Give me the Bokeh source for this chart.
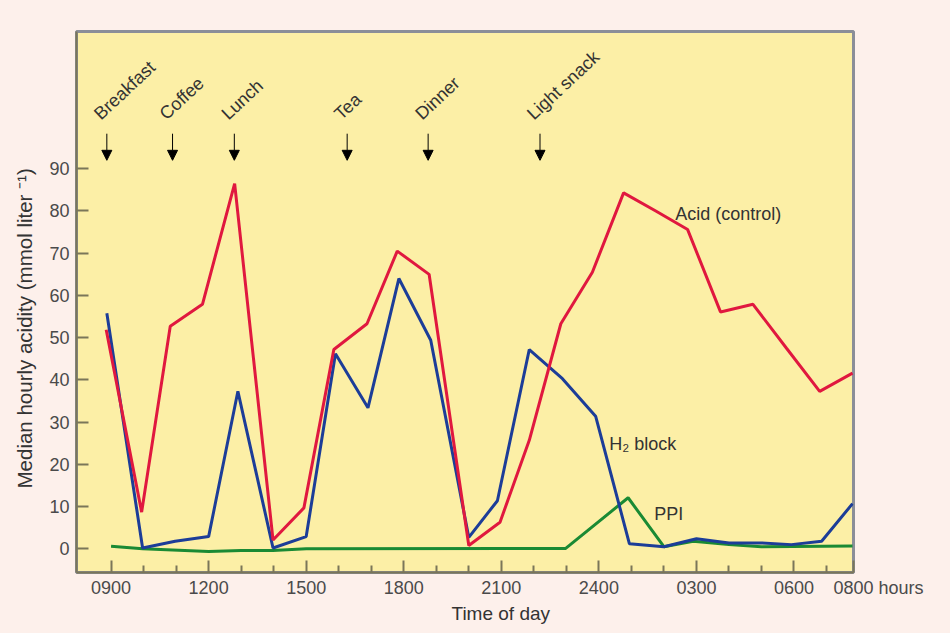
from bokeh.plotting import figure
from bokeh.models import Range1d, FixedTicker, Label, Arrow, NormalHead, ColumnDataSource, Title
from bokeh.core.properties import value
from bokeh.embed import file_html
from bokeh.resources import INLINE
import math

# ---- data (hours after 0900) ----
acid_x = [-0.15, 0.94, 1.82, 2.81, 3.80, 4.98, 5.93, 6.85, 7.87, 8.80, 9.78, 11.00,
          11.96, 12.86, 13.83, 14.80, 15.76, 16.75, 17.73, 18.74, 19.74, 20.77, 21.79, 22.80]
acid_y = [51.9, 8.7, 52.7, 57.9, 86.5, 2.1, 9.7, 47.2, 53.3, 70.5, 65.0, 0.8,
          6.3, 25.7, 53.3, 65.5, 84.3, 80.0, 75.6, 56.1, 57.9, 47.5, 37.3, 41.6]

h2_x = [-0.13, 0.97, 1.97, 3.00, 3.90, 4.98, 6.00, 6.90, 7.90, 8.85, 9.83, 11.00,
        11.88, 12.86, 13.88, 14.90, 15.94, 17.00, 18.00, 19.00, 20.00, 20.92, 21.85, 22.80]
h2_y = [55.8, 0.2, 1.8, 2.9, 37.3, 0.2, 2.9, 46.2, 33.4, 64.0, 49.4, 2.7,
        11.4, 47.2, 40.3, 31.4, 1.2, 0.5, 2.4, 1.4, 1.4, 1.0, 1.8, 10.7]

ppi_x = [0.00, 0.97, 3.00, 4.00, 4.98, 6.00, 13.98, 15.90, 17.00, 17.90, 19.00, 20.00, 22.80]
ppi_y = [0.6, 0.0, -0.6, -0.4, -0.4, 0.0, 0.1, 12.1, 0.5, 1.8, 1.0, 0.5, 0.7]

meal_names = ["Breakfast", "Coffee", "Lunch", "Tea", "Dinner", "Light snack"]
meal_times = [-0.13, 1.89, 3.79, 7.26, 9.75, 13.19]

x_ticks = [0, 3, 6, 9, 12, 15, 18, 21, 22.83]
x_tick_labels = ["0900", "1200", "1500", "1800", "2100", "2400", "0300", "0600",
                 "\u00a0" * 10 + "0800 hours"]
x_minor = [1, 2, 4, 5, 7, 8, 10, 11, 13, 14, 16, 17, 19, 20, 22]
y_ticks = [0, 10, 20, 30, 40, 50, 60, 70, 80, 90]

FONT = "Liberation Sans"
RED = "#e0183f"
BLUE = "#1c3d98"
GREEN = "#1a8a34"
PAGE_BG = "#fdf0eb"

p = figure(width=950, height=633, output_backend="svg", toolbar_location=None,
           x_range=Range1d(-1.063, 22.83), y_range=Range1d(-5.6, 122.5),
           min_border_left=76, min_border_right=97, min_border_top=31, min_border_bottom=61)
p.background_fill_color = "#fcefa6"
p.border_fill_color = PAGE_BG
p.outline_line_color = "#8b8e98"
p.outline_line_width = 3
p.grid.visible = False

xa = p.xaxis[0]
xa.ticker = FixedTicker(ticks=x_ticks, minor_ticks=x_minor)
xa.major_label_overrides = {t: l for t, l in zip(x_ticks, x_tick_labels)}
ya = p.yaxis[0]
ya.ticker = FixedTicker(ticks=y_ticks, minor_ticks=[])

for ax in (xa, ya):
    ax.axis_line_color = "#7a7659"
    ax.axis_line_width = 2
    ax.major_tick_line_color = "#7a7659"
    ax.minor_tick_line_color = "#7a7659"
    ax.major_tick_line_width = 2
    ax.minor_tick_line_width = 2
    ax.major_tick_out = 0
    ax.minor_tick_out = 0
    ax.major_tick_in = 12
    ax.minor_tick_in = 7
    ax.major_label_text_font = FONT
    ax.major_label_text_font_size = "18px"
    ax.major_label_text_color = "#4a4a4a"
xa.major_label_standoff = 5
ya.major_label_standoff = 7

# lines
p.line(ppi_x, ppi_y, line_color=GREEN, line_width=3)
p.line(h2_x, h2_y, line_color=BLUE, line_width=3)
p.line(acid_x, acid_y, line_color=RED, line_width=3)

# meal arrows and labels
for t in meal_times:
    p.add_layout(Arrow(x_start=t, y_start=98.3, x_end=t, y_end=92.0, line_color="black",
                       line_width=1,
                       end=NormalHead(size=10, fill_color="black", line_color="black")))
src = ColumnDataSource(dict(x=meal_times, y=[102.4] * len(meal_times), t=meal_names))
p.text(x="x", y="y", text="t", source=src, angle=math.radians(43), x_offset=-10,
       text_font=value(FONT), text_font_size="18px", text_color="#333333",
       text_align="left", text_baseline="alphabetic")

# series labels
p.add_layout(Label(x=17.35, y=79.4, text="Acid (control)", text_font=FONT,
                   text_font_size="18px", text_color="#333333", text_baseline="alphabetic"))
p.add_layout(Label(x=15.32, y=24.9, text="H\u2082 block", text_font=FONT,
                   text_font_size="18px", text_color="#333333", text_baseline="alphabetic"))
p.add_layout(Label(x=16.7, y=8.3, text="PPI", text_font=FONT,
                   text_font_size="18px", text_color="#333333", text_baseline="alphabetic"))

# axis titles (as titles so they are drawn outside the frame)
p.add_layout(Title(text="Time of day", align="left", offset=375, standoff=0,
                   text_font=FONT, text_font_size="19px", text_font_style="normal",
                   text_color="#333333"), "below")
p.add_layout(Title(text="Median hourly acidity (mmol liter \u207b\u00b9)", align="left",
                   offset=84, standoff=21, text_font=FONT, text_font_size="20.5px",
                   text_font_style="normal", text_color="#333333"), "left")

html = file_html(p, INLINE)
html = html.replace("<head>", "<head><style>body{background:%s;}</style>" % PAGE_BG, 1)
open("out.html", "w").write(html)
